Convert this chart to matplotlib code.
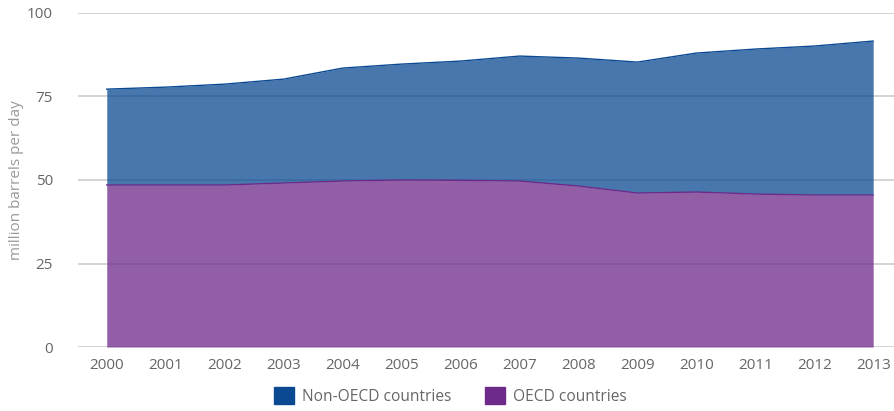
import matplotlib.pyplot as plt
import numpy as np

plt.rcParams['font.family'] = ['Open Sans', 'DejaVu Sans']

years = [2000, 2001, 2002, 2003, 2004, 2005, 2006, 2007, 2008, 2009, 2010, 2011, 2012, 2013]
oecd = [48.5, 48.5, 48.5, 49.1, 49.7, 50.0, 49.9, 49.7, 48.2, 46.1, 46.4, 45.8, 45.5, 45.5]
world = [77.2, 77.8, 78.7, 80.2, 83.5, 84.7, 85.6, 87.1, 86.5, 85.3, 88.0, 89.2, 90.1, 91.6]
non_oecd = [w - o for w, o in zip(world, oecd)]

blue = '#0b4a92'
purple = '#6e2a8a'
grey = '#666666'

fig = plt.figure(figsize=(8.95, 4.11), dpi=100)
ax = fig.add_axes([0.087, 0.1557, 0.913, 0.8127])

ax.yaxis.grid(True, color='#cccccc', linewidth=1.2, zorder=0)
ax.set_axisbelow(True)

base = np.array(oecd)
top = base + np.array(non_oecd)
ax.fill_between(years, 0, base, color=purple, alpha=0.75, linewidth=0, zorder=2)
ax.fill_between(years, base, top, color=blue, alpha=0.75, linewidth=0, zorder=2)
ax.plot(years, base, color=purple, linewidth=1.0, zorder=3)
ax.plot(years, top, color=blue, linewidth=1.0, zorder=3)

ax.set_xlim(1999.51, 2013.37)
ax.set_ylim(0, 100)
ax.set_xticks(years)
ax.set_yticks([0, 25, 50, 75, 100])
ax.tick_params(axis='both', length=0, colors=grey, labelsize=11)
ax.tick_params(axis='x', pad=8)
ax.tick_params(axis='y', pad=18)
for s in ax.spines.values():
    s.set_visible(False)
ax.set_ylabel('million barrels per day', color='#999999', fontsize=11, labelpad=2)

handles = [plt.Rectangle((0, 0), 1, 1, color=blue), plt.Rectangle((0, 0), 1, 1, color=purple)]
fig.legend(handles, ['Non-OECD countries', 'OECD countries'], loc='center',
           bbox_to_anchor=(0.503, 0.037), ncol=2, frameon=False, fontsize=11.2,
           labelcolor=grey, handlelength=1.3, handleheight=1.3, columnspacing=2.2,
           handletextpad=0.5)

fig.savefig('out.png', dpi=100)
